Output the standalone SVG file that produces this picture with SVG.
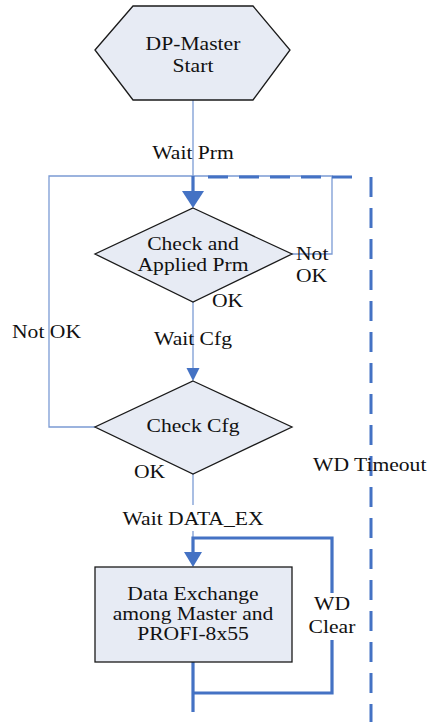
<svg xmlns="http://www.w3.org/2000/svg" width="432" height="722" viewBox="0 0 432 722">
  <style>
    .shape { fill: #e7ebf4; stroke: #1a1a1a; stroke-width: 1.3; }
    .thin { fill: none; stroke: #7b9bd4; stroke-width: 1.3; }
    .thick { fill: none; stroke: #4472c4; stroke-width: 3.2; }
    .dash { fill: none; stroke: #4472c4; stroke-width: 3; stroke-dasharray: 20 11; }
    .head { fill: #4472c4; }
    text { font-family: "Liberation Serif", "Times New Roman", serif; font-size: 18px; fill: #111; }
    .c { text-anchor: middle; }
  </style>

  <!-- connectors -->
  <g id="connectors">
    <!-- start to first check -->
    <line class="thin" x1="193" y1="100" x2="193" y2="176"/>
    <!-- retry loops on the left and right -->
    <polyline class="thin" points="95,427 49,427 49,176 332,176 332,254 292,254"/>
    <!-- watchdog timeout return -->
    <polyline class="dash" points="208,177 355,177"/>
    <line class="dash" x1="371" y1="177" x2="371" y2="722"/>
    <!-- into Check and Applied Prm -->
    <line class="thick" x1="193" y1="176" x2="193" y2="192"/>
    <path class="head" d="M182,191 L204,191 L193,208 Z"/>
    <!-- OK to Check Cfg -->
    <line class="thin" x1="193" y1="302" x2="193" y2="370"/>
    <path class="head" d="M186.5,368 L199.5,368 L193,381 Z"/>
    <!-- OK to data exchange -->
    <line class="thin" x1="193" y1="474" x2="193" y2="505"/>
    <line class="thin" x1="193" y1="531" x2="193" y2="538"/>
    <!-- WD clear loop -->
    <polyline class="thick" points="193,693 332,693 332,640"/>
    <polyline class="thick" points="332,593 332,538 193,538 193,553"/>
    <path class="head" d="M184,552 L202,552 L193,567 Z"/>
    <line class="thick" x1="193" y1="662" x2="193" y2="712"/>
  </g>

  <!-- nodes -->
  <g id="start">
    <polygon class="shape" points="95,50 133,6 253,6 290,50 253,100 133,100"/>
    <text class="c" transform="translate(193,50) scale(1.2,1)">DP-Master</text>
    <text class="c" transform="translate(193,72) scale(1.2,1)">Start</text>
  </g>

  <g id="check-prm">
    <polygon class="shape" points="193,208 292,254 193,302 95,254"/>
    <text class="c" transform="translate(193,250) scale(1.2,1)">Check and</text>
    <text class="c" transform="translate(193,271) scale(1.2,1)">Applied Prm</text>
  </g>

  <g id="check-cfg">
    <polygon class="shape" points="193,381 292,427 193,474 95,427"/>
    <text class="c" transform="translate(193,432) scale(1.2,1)">Check Cfg</text>
  </g>

  <g id="data-exchange">
    <rect class="shape" x="95" y="567" width="197" height="95"/>
    <text class="c" transform="translate(193,600) scale(1.2,1)">Data Exchange</text>
    <text class="c" transform="translate(193,620) scale(1.2,1)">among Master and</text>
    <text class="c" transform="translate(193,640) scale(1.2,1)">PROFI-8x55</text>
  </g>

  <!-- connector labels -->
  <g id="labels">
    <text class="c" transform="translate(193,159) scale(1.2,1)">Wait Prm</text>
    <text transform="translate(296,260) scale(1.2,1)">Not</text>
    <text transform="translate(296,282) scale(1.2,1)">OK</text>
    <text transform="translate(212,307) scale(1.2,1)">OK</text>
    <text transform="translate(12,338) scale(1.2,1)">Not OK</text>
    <text class="c" transform="translate(193,345) scale(1.2,1)">Wait Cfg</text>
    <text transform="translate(134,478) scale(1.2,1)">OK</text>
    <text transform="translate(313,471) scale(1.2,1)">WD Timeout</text>
    <text class="c" transform="translate(193,525) scale(1.2,1)">Wait DATA_EX</text>
    <text class="c" transform="translate(332,610) scale(1.2,1)">WD</text>
    <text class="c" transform="translate(332,633) scale(1.2,1)">Clear</text>
  </g>
</svg>
